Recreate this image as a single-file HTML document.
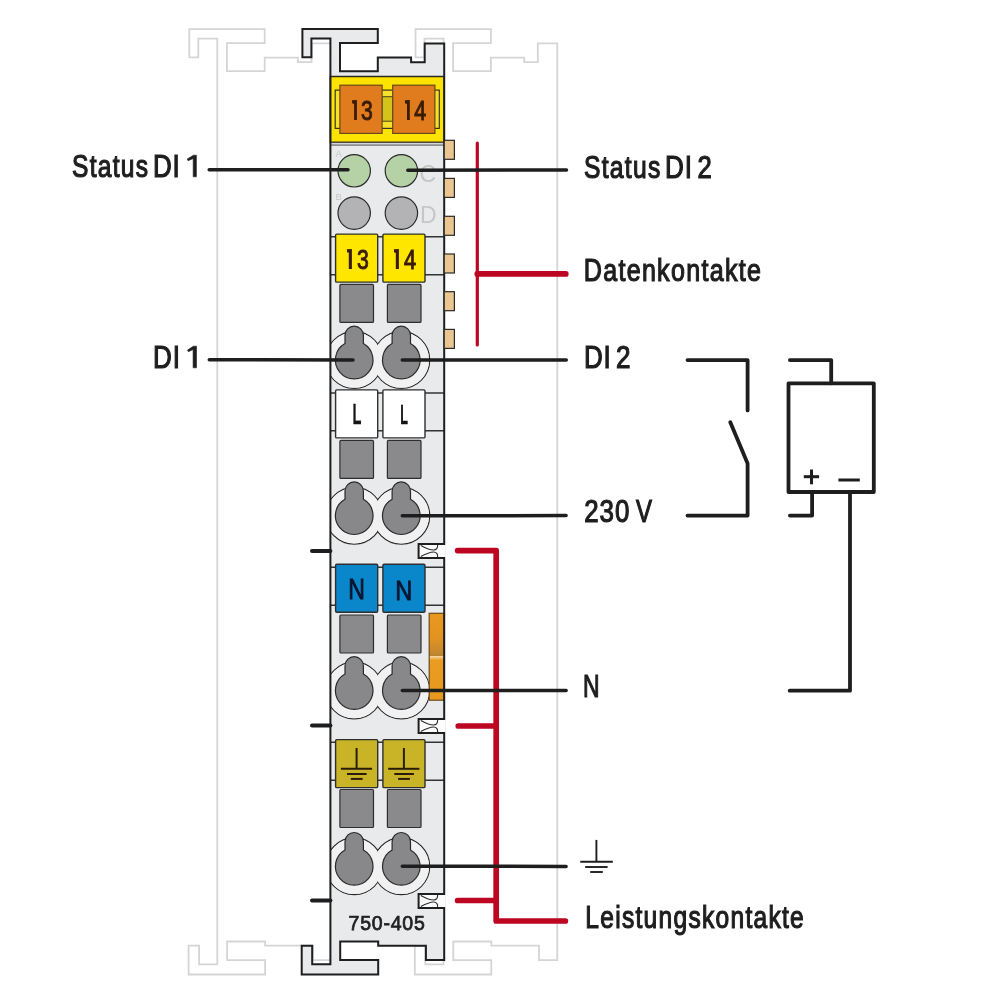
<!DOCTYPE html>
<html><head><meta charset="utf-8"><style>
html,body{margin:0;padding:0;background:#fff;}
svg{display:block;will-change:transform;}
</style></head><body>
<svg width="1006" height="1007" viewBox="0 0 1006 1007">
<defs><clipPath id="bodyclip"><rect x="330.4" y="0" width="113.8" height="1007"/></clipPath></defs>
<rect width="1006" height="1007" fill="#fff"/>
<path d="M189.3,29.1H264.7V43.1H226.9V71.2H264.7V57.6H298.0V62.2H311.6V43.4H331.1V960.1H312.8V945.7H265.1V941.5H227.1V960.1H265.1V974.5H188.6V945.7H199.1V964.3H217.3V38.6H198.3V57.3H189.3Z" fill="none" stroke="#d5d5d5" stroke-width="1.8"/>
<path d="M415.5,29.1H490.9V43.1H453.1V71.2H490.9V57.6H524.2V62.2H537.8V43.4H557.3V960.1H539.0V945.7H491.3V941.5H453.3V960.1H491.3V974.5H414.8V945.7H425.3V964.3H443.5V38.6H424.5V57.3H415.5Z" fill="none" stroke="#d5d5d5" stroke-width="1.8"/>
<path d="M302.4,29.1H377.8V43.1H340.0V71.2H377.8V57.6H411.1V62.2H424.7V43.4H444.2V960.1H425.9V945.7H378.2V941.5H340.2V960.1H378.2V974.5H301.7V945.7H312.2V964.3H330.4V38.6H311.4V57.3H302.4Z" fill="#e9eaeb" stroke="none"/>
<rect x="330.4" y="76.5" width="113.80000000000001" height="65.8" fill="#fde300" stroke="#2a2a20" stroke-width="1.5"/>
<rect x="335.2" y="90.1" width="104.1" height="38.3" fill="#f5e02a" stroke="#3a3320" stroke-width="1.2"/>
<rect x="381.9" y="96.7" width="10.8" height="24.5" fill="#d3c41c" stroke="#4a4420" stroke-width="1"/>
<rect x="339.9" y="85.2" width="42.2" height="48.2" fill="#e07b1e" stroke="#6a4818" stroke-width="1.2"/>
<rect x="392.7" y="85.2" width="42.2" height="48.2" fill="#e07b1e" stroke="#6a4818" stroke-width="1.2"/>
<rect x="330.4" y="142.8" width="113.80000000000001" height="2.2" fill="#d5d5d5"/>
<line x1="330.4" y1="145.2" x2="444.2" y2="145.2" stroke="#6f6f6f" stroke-width="1.3"/>
<circle cx="354.2" cy="170.8" r="16.2" fill="#b5d2a7" stroke="#2a2a2a" stroke-width="1.2"/>
<circle cx="401.4" cy="170.8" r="16.2" fill="#b5d2a7" stroke="#2a2a2a" stroke-width="1.2"/>
<circle cx="354.2" cy="213.1" r="16.2" fill="#b3b3b5" stroke="#2a2a2a" stroke-width="1.2"/>
<circle cx="401.4" cy="213.1" r="16.2" fill="#b3b3b5" stroke="#2a2a2a" stroke-width="1.2"/>
<line x1="330.4" y1="236.8" x2="444.2" y2="236.8" stroke="#333333" stroke-width="1.5"/>
<line x1="330.4" y1="274.7" x2="444.2" y2="274.7" stroke="#333333" stroke-width="1.5"/>
<rect x="335.6" y="234.1" width="42.1" height="48" rx="1.2" fill="#ffe600" stroke="#2e2e2e" stroke-width="1.4"/>
<rect x="382.9" y="234.1" width="42.1" height="48" rx="1.2" fill="#ffe600" stroke="#2e2e2e" stroke-width="1.4"/>
<rect x="339.9" y="284.4" width="33.6" height="38.0" rx="1" fill="#8a8a8c" stroke="#2e2e2e" stroke-width="1.2"/>
<rect x="387.4" y="284.4" width="33.6" height="38.0" rx="1" fill="#8a8a8c" stroke="#2e2e2e" stroke-width="1.2"/>
<g clip-path="url(#bodyclip)">
<circle cx="354.2" cy="360.0" r="28.4" fill="#f1f1f1" stroke="#2a2a2a" stroke-width="1.2"/>
<circle cx="401.3" cy="360.0" r="28.4" fill="#f1f1f1" stroke="#2a2a2a" stroke-width="1.2"/>
<circle cx="354.2" cy="360.0" r="27.8" fill="#f1f1f1"/>
<circle cx="401.3" cy="360.0" r="27.8" fill="#f1f1f1"/>
</g>
<path d="M345.00,335.40 A9.2,9.2 0 0 1 363.40,335.40 V343.60 A18.8,18.8 0 1 1 345.00,343.60 Z" fill="#88888a" stroke="#2a2a2a" stroke-width="1.2"/>
<path d="M392.10,335.40 A9.2,9.2 0 0 1 410.50,335.40 V343.60 A18.8,18.8 0 1 1 392.10,343.60 Z" fill="#88888a" stroke="#2a2a2a" stroke-width="1.2"/>
<line x1="330.4" y1="392.9" x2="444.2" y2="392.9" stroke="#333333" stroke-width="1.5"/>
<line x1="330.4" y1="430.7" x2="444.2" y2="430.7" stroke="#333333" stroke-width="1.5"/>
<rect x="335.6" y="389.9" width="42.1" height="48" rx="1.2" fill="#ffffff" stroke="#2e2e2e" stroke-width="1.4"/>
<rect x="382.9" y="389.9" width="42.1" height="48" rx="1.2" fill="#ffffff" stroke="#2e2e2e" stroke-width="1.4"/>
<rect x="339.9" y="440.4" width="33.6" height="38.0" rx="1" fill="#8a8a8c" stroke="#2e2e2e" stroke-width="1.2"/>
<rect x="387.4" y="440.4" width="33.6" height="38.0" rx="1" fill="#8a8a8c" stroke="#2e2e2e" stroke-width="1.2"/>
<g clip-path="url(#bodyclip)">
<circle cx="354.2" cy="515.7" r="28.4" fill="#f1f1f1" stroke="#2a2a2a" stroke-width="1.2"/>
<circle cx="401.3" cy="515.7" r="28.4" fill="#f1f1f1" stroke="#2a2a2a" stroke-width="1.2"/>
<circle cx="354.2" cy="515.7" r="27.8" fill="#f1f1f1"/>
<circle cx="401.3" cy="515.7" r="27.8" fill="#f1f1f1"/>
</g>
<path d="M345.00,491.10 A9.2,9.2 0 0 1 363.40,491.10 V499.30 A18.8,18.8 0 1 1 345.00,499.30 Z" fill="#88888a" stroke="#2a2a2a" stroke-width="1.2"/>
<path d="M392.10,491.10 A9.2,9.2 0 0 1 410.50,491.10 V499.30 A18.8,18.8 0 1 1 392.10,499.30 Z" fill="#88888a" stroke="#2a2a2a" stroke-width="1.2"/>
<line x1="330.4" y1="567.2" x2="444.2" y2="567.2" stroke="#333333" stroke-width="1.5"/>
<line x1="330.4" y1="605.2" x2="444.2" y2="605.2" stroke="#333333" stroke-width="1.5"/>
<rect x="335.6" y="564.3" width="42.1" height="48" rx="1.2" fill="#0a87cb" stroke="#2e2e2e" stroke-width="1.4"/>
<rect x="382.9" y="564.3" width="42.1" height="48" rx="1.2" fill="#0a87cb" stroke="#2e2e2e" stroke-width="1.4"/>
<rect x="339.9" y="615.0" width="33.6" height="38.0" rx="1" fill="#8a8a8c" stroke="#2e2e2e" stroke-width="1.2"/>
<rect x="387.4" y="615.0" width="33.6" height="38.0" rx="1" fill="#8a8a8c" stroke="#2e2e2e" stroke-width="1.2"/>
<g clip-path="url(#bodyclip)">
<circle cx="354.2" cy="690.5" r="28.4" fill="#f1f1f1" stroke="#2a2a2a" stroke-width="1.2"/>
<circle cx="401.3" cy="690.5" r="28.4" fill="#f1f1f1" stroke="#2a2a2a" stroke-width="1.2"/>
<circle cx="354.2" cy="690.5" r="27.8" fill="#f1f1f1"/>
<circle cx="401.3" cy="690.5" r="27.8" fill="#f1f1f1"/>
</g>
<path d="M345.00,665.90 A9.2,9.2 0 0 1 363.40,665.90 V674.10 A18.8,18.8 0 1 1 345.00,674.10 Z" fill="#88888a" stroke="#2a2a2a" stroke-width="1.2"/>
<path d="M392.10,665.90 A9.2,9.2 0 0 1 410.50,665.90 V674.10 A18.8,18.8 0 1 1 392.10,674.10 Z" fill="#88888a" stroke="#2a2a2a" stroke-width="1.2"/>
<line x1="330.4" y1="742.2" x2="444.2" y2="742.2" stroke="#333333" stroke-width="1.5"/>
<line x1="330.4" y1="780.3" x2="444.2" y2="780.3" stroke="#333333" stroke-width="1.5"/>
<rect x="335.6" y="739.6" width="42.1" height="48" rx="1.2" fill="#c9b428" stroke="#2e2e2e" stroke-width="1.4"/>
<rect x="382.9" y="739.6" width="42.1" height="48" rx="1.2" fill="#c9b428" stroke="#2e2e2e" stroke-width="1.4"/>
<rect x="339.9" y="789.5" width="33.6" height="38.0" rx="1" fill="#8a8a8c" stroke="#2e2e2e" stroke-width="1.2"/>
<rect x="387.4" y="789.5" width="33.6" height="38.0" rx="1" fill="#8a8a8c" stroke="#2e2e2e" stroke-width="1.2"/>
<g clip-path="url(#bodyclip)">
<circle cx="354.2" cy="866.3" r="28.4" fill="#f1f1f1" stroke="#2a2a2a" stroke-width="1.2"/>
<circle cx="401.3" cy="866.3" r="28.4" fill="#f1f1f1" stroke="#2a2a2a" stroke-width="1.2"/>
<circle cx="354.2" cy="866.3" r="27.8" fill="#f1f1f1"/>
<circle cx="401.3" cy="866.3" r="27.8" fill="#f1f1f1"/>
</g>
<path d="M345.00,841.70 A9.2,9.2 0 0 1 363.40,841.70 V849.90 A18.8,18.8 0 1 1 345.00,849.90 Z" fill="#88888a" stroke="#2a2a2a" stroke-width="1.2"/>
<path d="M392.10,841.70 A9.2,9.2 0 0 1 410.50,841.70 V849.90 A18.8,18.8 0 1 1 392.10,849.90 Z" fill="#88888a" stroke="#2a2a2a" stroke-width="1.2"/>
<g stroke="#2a1c05" stroke-width="2"><line x1="356.6" y1="748" x2="356.6" y2="768.8"/><line x1="340.90000000000003" y1="768.8" x2="372.1" y2="768.8"/><line x1="347.0" y1="774" x2="366.6" y2="774"/><line x1="350.8" y1="778.9" x2="362.6" y2="778.9"/></g>
<g stroke="#2a1c05" stroke-width="2"><line x1="403.9" y1="748" x2="403.9" y2="768.8"/><line x1="388.2" y1="768.8" x2="419.4" y2="768.8"/><line x1="394.29999999999995" y1="774" x2="413.9" y2="774"/><line x1="398.09999999999997" y1="778.9" x2="409.9" y2="778.9"/></g>
<g font-family="Liberation Sans" fill="#c6c6c6">
<text x="335.5" y="156.5" font-size="9.5">A</text>
<text x="335.5" y="200.3" font-size="9.5">B</text>
<text x="419.5" y="181.6" font-size="23">C</text>
<text x="420" y="222.6" font-size="23">D</text>
</g>
<defs><linearGradient id="obar" x1="0" y1="0" x2="0" y2="1"><stop offset="0" stop-color="#e9981f"/><stop offset="0.28" stop-color="#e3931f"/><stop offset="0.47" stop-color="#c3862e"/><stop offset="0.485" stop-color="#b57e2c"/><stop offset="0.495" stop-color="#f6d69c"/><stop offset="0.54" stop-color="#e99b22"/><stop offset="1" stop-color="#e8981f"/></linearGradient></defs>
<rect x="429.2" y="613.3" width="14.8" height="86.9" fill="url(#obar)" stroke="#6a4a20" stroke-width="1.2"/>
<rect x="418.6" y="544.0" width="26.5" height="14" fill="#fcfcfc"/>
<path d="M444.2,544.0 H418.6 V558.0 H444.2" fill="none" stroke="#1f1f1f" stroke-width="2"/>
<path d="M420.8,545.4 C426.5,548.5 430,550.0 433.5,550.0 C436.5,550.0 437.9,548.0 437.6,545.0" fill="none" stroke="#2a2a2a" stroke-width="1.1"/>
<path d="M420.8,556.6 C426.5,553.5 430,552.0 433.5,552.0 C436.5,552.0 437.9,554.0 437.6,557.0" fill="none" stroke="#2a2a2a" stroke-width="1.1"/>
<rect x="418.6" y="719.0" width="26.5" height="14" fill="#fcfcfc"/>
<path d="M444.2,719.0 H418.6 V733.0 H444.2" fill="none" stroke="#1f1f1f" stroke-width="2"/>
<path d="M420.8,720.4 C426.5,723.5 430,725.0 433.5,725.0 C436.5,725.0 437.9,723.0 437.6,720.0" fill="none" stroke="#2a2a2a" stroke-width="1.1"/>
<path d="M420.8,731.6 C426.5,728.5 430,727.0 433.5,727.0 C436.5,727.0 437.9,729.0 437.6,732.0" fill="none" stroke="#2a2a2a" stroke-width="1.1"/>
<rect x="418.6" y="894.0" width="26.5" height="14" fill="#fcfcfc"/>
<path d="M444.2,894.0 H418.6 V908.0 H444.2" fill="none" stroke="#1f1f1f" stroke-width="2"/>
<path d="M420.8,895.4 C426.5,898.5 430,900.0 433.5,900.0 C436.5,900.0 437.9,898.0 437.6,895.0" fill="none" stroke="#2a2a2a" stroke-width="1.1"/>
<path d="M420.8,906.6 C426.5,903.5 430,902.0 433.5,902.0 C436.5,902.0 437.9,904.0 437.6,907.0" fill="none" stroke="#2a2a2a" stroke-width="1.1"/>
<path d="M302.4,29.1H377.8V43.1H340.0V71.2H377.8V57.6H411.1V62.2H424.7V43.4H444.2V960.1H425.9V945.7H378.2V941.5H340.2V960.1H378.2V974.5H301.7V945.7H312.2V964.3H330.4V38.6H311.4V57.3H302.4Z" fill="none" stroke="#1f1f1f" stroke-width="2"/>
<rect x="442.7" y="545.0" width="3" height="12" fill="#fcfcfc"/>
<rect x="442.7" y="720.0" width="3" height="12" fill="#fcfcfc"/>
<rect x="442.7" y="895.0" width="3" height="12" fill="#fcfcfc"/>
<rect x="444.2" y="140.3" width="10.2" height="19" fill="#ebc590" stroke="#2a2a2a" stroke-width="1.2"/>
<rect x="444.2" y="178.4" width="10.2" height="19" fill="#ebc590" stroke="#2a2a2a" stroke-width="1.2"/>
<rect x="444.2" y="216.3" width="10.2" height="19" fill="#ebc590" stroke="#2a2a2a" stroke-width="1.2"/>
<rect x="444.2" y="254.0" width="10.2" height="19" fill="#ebc590" stroke="#2a2a2a" stroke-width="1.2"/>
<rect x="444.2" y="291.7" width="10.2" height="19" fill="#ebc590" stroke="#2a2a2a" stroke-width="1.2"/>
<rect x="444.2" y="329.4" width="10.2" height="19" fill="#ebc590" stroke="#2a2a2a" stroke-width="1.2"/>
<g stroke="#bc0622" fill="none" stroke-linecap="round" stroke-linejoin="round">
<line x1="477.3" y1="143.0" x2="477.3" y2="344.9" stroke-width="3.2"/>
<line x1="477.3" y1="273.9" x2="565.8" y2="273.9" stroke-width="5.7"/>
<path d="M457.6,550.6 H496.2 V921 H565.4" stroke-width="5.7"/>
<line x1="458.3" y1="726" x2="496.2" y2="726" stroke-width="5.7"/>
<line x1="457.6" y1="900.5" x2="496.2" y2="900.5" stroke-width="5.7"/>
</g>
<g stroke="#1e1e1e" fill="none" stroke-linecap="round" stroke-width="3.5">
<line x1="209.2" y1="169.8" x2="348.0" y2="169.8"/>
<line x1="407.8" y1="170.3" x2="566.5" y2="170.0"/>
<line x1="209.3" y1="359.8" x2="353.0" y2="360.0"/>
<line x1="402.3" y1="360.0" x2="566.3" y2="360.0"/>
<line x1="402.3" y1="515.7" x2="566.1" y2="515.6"/>
<line x1="402.3" y1="690.5" x2="566.1" y2="690.5"/>
<line x1="402.3" y1="866.3" x2="566.1" y2="866.4"/>
<line x1="312" y1="551.1" x2="330.4" y2="551.1" stroke-width="4"/>
<line x1="312" y1="725.6" x2="330.4" y2="725.6" stroke-width="4"/>
<line x1="312" y1="900.6" x2="330.4" y2="900.6" stroke-width="4"/>
</g>
<g stroke="#1e1e1e" stroke-width="1.9"><line x1="596.4" y1="839.9" x2="596.4" y2="861.8"/><line x1="580.3" y1="861.8" x2="612.8" y2="861.8"/><line x1="585.2" y1="867" x2="607.6" y2="867"/><line x1="590.2" y1="872" x2="602.8" y2="872"/></g>
<g stroke="#1e1e1e" fill="none" stroke-width="3.8" stroke-linecap="round" stroke-linejoin="round">
<path d="M687.5,360.1 H747.6 V410.4"/>
<path d="M730.3,422.2 L747.6,463.6 V515.6 H687.5"/>
<rect x="788.5" y="383.3" width="85.3" height="108.7"/>
<path d="M789.9,360.1 H831.2 V383.3"/>
<path d="M812.1,492 V515.6 H789.9"/>
<path d="M850,492 V690.7 H789.7"/>
</g>
<g stroke="#1e1e1e" stroke-width="3.0"><line x1="803.8" y1="476.7" x2="819.1" y2="476.7"/><line x1="811.5" y1="469.5" x2="811.5" y2="484.3"/><line x1="838.4" y1="480" x2="859.8" y2="480" stroke-width="3"/></g>
<text x="72.00" y="176.9" font-family="Liberation Sans" font-size="30.60" font-weight="normal" fill="#1e1e1e" stroke="#1e1e1e" stroke-width="1.2" textLength="77.31" lengthAdjust="spacingAndGlyphs" letter-spacing="1.6">Status</text>
<text x="153.00" y="176.9" font-family="Liberation Sans" font-size="30.60" font-weight="normal" fill="#1e1e1e" stroke="#1e1e1e" stroke-width="1.2" textLength="27.60" lengthAdjust="spacingAndGlyphs" letter-spacing="1.0">DI</text>
<text x="584.00" y="177.7" font-family="Liberation Sans" font-size="30.60" font-weight="normal" fill="#1e1e1e" stroke="#1e1e1e" stroke-width="1.2" textLength="77.64" lengthAdjust="spacingAndGlyphs" letter-spacing="1.6">Status</text>
<text x="665.00" y="177.7" font-family="Liberation Sans" font-size="30.60" font-weight="normal" fill="#1e1e1e" stroke="#1e1e1e" stroke-width="1.2" textLength="27.70" lengthAdjust="spacingAndGlyphs" letter-spacing="1.0">DI</text>
<text x="697.40" y="177.7" font-family="Liberation Sans" font-size="30.60" font-weight="normal" fill="#1e1e1e" stroke="#1e1e1e" stroke-width="1.2" textLength="14.25" lengthAdjust="spacingAndGlyphs" letter-spacing="0">2</text>
<text x="583.80" y="280.9" font-family="Liberation Sans" font-size="30.60" font-weight="normal" fill="#1e1e1e" stroke="#1e1e1e" stroke-width="1.2" textLength="178.40" lengthAdjust="spacingAndGlyphs" letter-spacing="1.6">Datenkontakte</text>
<text x="153.10" y="367.8" font-family="Liberation Sans" font-size="30.60" font-weight="normal" fill="#1e1e1e" stroke="#1e1e1e" stroke-width="1.2" textLength="27.65" lengthAdjust="spacingAndGlyphs" letter-spacing="1.0">DI</text>
<text x="584.00" y="367.8" font-family="Liberation Sans" font-size="30.60" font-weight="normal" fill="#1e1e1e" stroke="#1e1e1e" stroke-width="1.2" textLength="27.60" lengthAdjust="spacingAndGlyphs" letter-spacing="1.0">DI</text>
<text x="616.00" y="367.8" font-family="Liberation Sans" font-size="30.60" font-weight="normal" fill="#1e1e1e" stroke="#1e1e1e" stroke-width="1.2" textLength="14.49" lengthAdjust="spacingAndGlyphs" letter-spacing="0">2</text>
<text x="584.20" y="521.8" font-family="Liberation Sans" font-size="30.60" font-weight="normal" fill="#1e1e1e" stroke="#1e1e1e" stroke-width="1.2" textLength="46.23" lengthAdjust="spacingAndGlyphs" letter-spacing="1.2">230</text>
<text x="636.10" y="521.8" font-family="Liberation Sans" font-size="30.60" font-weight="normal" fill="#1e1e1e" stroke="#1e1e1e" stroke-width="1.2" textLength="15.99" lengthAdjust="spacingAndGlyphs" letter-spacing="0">V</text>
<text x="583.10" y="696.8" font-family="Liberation Sans" font-size="30.60" font-weight="normal" fill="#1e1e1e" stroke="#1e1e1e" stroke-width="1.2" textLength="16.59" lengthAdjust="spacingAndGlyphs" letter-spacing="0">N</text>
<text x="585.30" y="927.7" font-family="Liberation Sans" font-size="30.60" font-weight="normal" fill="#1e1e1e" stroke="#1e1e1e" stroke-width="1.2" textLength="219.75" lengthAdjust="spacingAndGlyphs" letter-spacing="1.6">Leistungskontakte</text>
<text x="361.10" y="119.8" font-family="Liberation Sans" font-size="27.89" font-weight="normal" fill="#3a1c05" stroke="#3a1c05" stroke-width="1.0" textLength="11.79" lengthAdjust="spacingAndGlyphs" letter-spacing="0">3</text>
<text x="414.20" y="119.9" font-family="Liberation Sans" font-size="27.00" font-weight="normal" fill="#3a1c05" stroke="#3a1c05" stroke-width="1.0" textLength="11.95" lengthAdjust="spacingAndGlyphs" letter-spacing="0">4</text>
<text x="357.10" y="268.9" font-family="Liberation Sans" font-size="27.96" font-weight="normal" fill="#3a1c05" stroke="#3a1c05" stroke-width="1.0" textLength="11.79" lengthAdjust="spacingAndGlyphs" letter-spacing="0">3</text>
<text x="404.10" y="268.9" font-family="Liberation Sans" font-size="27.00" font-weight="normal" fill="#3a1c05" stroke="#3a1c05" stroke-width="1.0" textLength="12.10" lengthAdjust="spacingAndGlyphs" letter-spacing="0">4</text>
<text x="352.60" y="423.8" font-family="Liberation Sans" font-size="28.67" font-weight="bold" fill="#141414" stroke="#141414" stroke-width="0.3" textLength="8.91" lengthAdjust="spacingAndGlyphs" letter-spacing="0">L</text>
<text x="400.30" y="423.8" font-family="Liberation Sans" font-size="27.45" font-weight="bold" fill="#141414" stroke="#141414" stroke-width="0.3" textLength="7.76" lengthAdjust="spacingAndGlyphs" letter-spacing="0">L</text>
<text x="348.30" y="599.0" font-family="Liberation Sans" font-size="29.03" font-weight="normal" fill="#0a1530" stroke="#0a1530" stroke-width="0.9" textLength="16.67" lengthAdjust="spacingAndGlyphs" letter-spacing="0">N</text>
<text x="395.20" y="599.8" font-family="Liberation Sans" font-size="28.00" font-weight="normal" fill="#0a1530" stroke="#0a1530" stroke-width="0.9" textLength="17.03" lengthAdjust="spacingAndGlyphs" letter-spacing="0">N</text>
<text x="348.60" y="929.9" font-family="Liberation Sans" font-size="20.44" font-weight="normal" fill="#222222" stroke="#222222" stroke-width="0.75" textLength="77.01" lengthAdjust="spacingAndGlyphs" letter-spacing="0.8">750-405</text>
<path d="M196.4,155.2 V176.8 H193.2 V158.6 L188.1,160.7 L187.2,159.0 L193.5,155.2 Z" fill="#1e1e1e" stroke="#1e1e1e" stroke-width="0.6"/>
<path d="M196.5,346.2 V367.8 H193.1 V349.6 L188.4,351.7 L187.5,350.0 L193.4,346.2 Z" fill="#1e1e1e" stroke="#1e1e1e" stroke-width="0.6"/>
<path d="M356.9,100.0 V119.9 H354.1 V103.7 L352.2,103.5 L352.0,100.3 Z" fill="#3a1c05"/>
<path d="M409.8,100.0 V119.9 H407.0 V103.7 L405.1,103.5 L404.9,100.3 Z" fill="#3a1c05"/>
<path d="M351.9,248.9 V268.9 H348.8 V252.6 L347.1,252.4 L346.9,249.2 Z" fill="#3a1c05"/>
<path d="M398.9,249.0 V268.9 H395.8 V252.7 L394.1,252.5 L393.9,249.3 Z" fill="#3a1c05"/>
</svg>
</body></html>
